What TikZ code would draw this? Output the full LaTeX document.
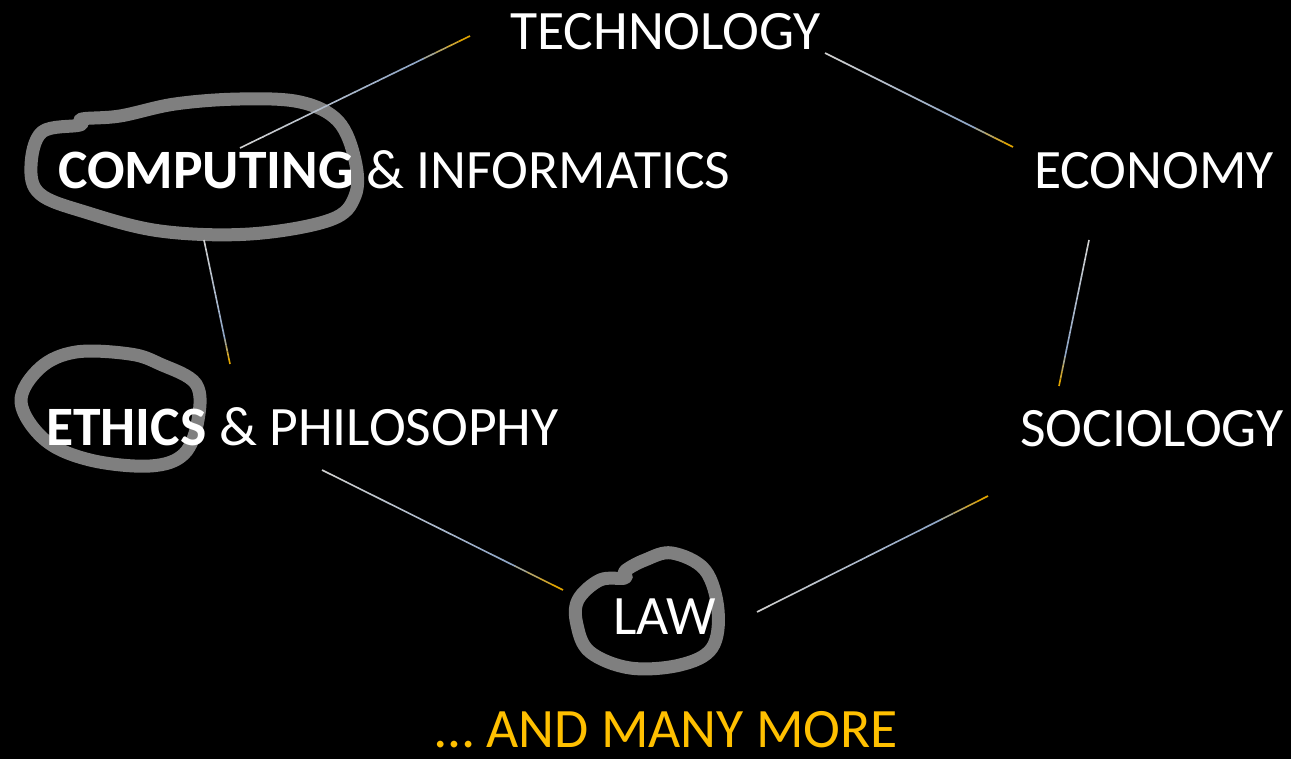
\documentclass[tikz,border=0pt]{standalone}
\usepackage{fontspec}
\setmainfont{Carlito}
\usetikzlibrary{calc}
\definecolor{lnA}{HTML}{D0D0D0}
\definecolor{lnB}{HTML}{8FA6C6}
\definecolor{lnC}{HTML}{E0A400}
\definecolor{moreorange}{HTML}{FFC000}
\definecolor{loopgray}{HTML}{7F7F7F}
\tikzset{
  lbl/.style={inner sep=0pt, anchor=base west, text=white, font=\fontsize{55.6}{62}\selectfont},
  link/.style={line width=1.6pt, line cap=butt},
  loopline/.style={draw=loopgray, line width=13pt, line join=round, line cap=round}
}
\newcommand{\glink}[2]{%
  \foreach \i in {0,...,15}{%
    \pgfmathsetmacro\s{\i/20}\pgfmathsetmacro\e{(\i+1)/20+0.002}%
    \pgfmathtruncatemacro\p{100-\i*100/15}%
    \draw[link, lnA!\p!lnB] ($(#1)!\s!(#2)$) -- ($(#1)!\e!(#2)$);}%
  \foreach \i in {16,...,19}{%
    \pgfmathsetmacro\s{\i/20}\pgfmathsetmacro\e{(\i+1)/20}%
    \pgfmathtruncatemacro\p{100-(\i-15)*25}%
    \draw[link, lnB!\p!lnC] ($(#1)!\s!(#2)$) -- ($(#1)!\e!(#2)$);}%
}
\begin{document}
\begin{tikzpicture}[x=1pt, y=-1pt]
\fill[black] (0,0) rectangle (1291,759);
\useasboundingbox (0,0) rectangle (1291,759);

% loops
\draw[loopline] plot[smooth cycle, tension=0.6] coordinates {(31,166) (42,132) (80,125) (82,119) (120,116) (175,104) (240,99) (300,102) (338,121) (355,160) (355,196) (330,220) (250,234) (160,231) (85,212) (40,194)};
\draw[loopline] plot[smooth cycle, tension=0.6] coordinates {(21,402) (40,368) (76,352) (130,354) (160,364) (196,384) (198,420) (184,454) (150,466) (90,460) (45,440)};
\draw[loopline] plot[smooth cycle, tension=0.6] coordinates {(578,600) (600,580) (625,578) (625,571) (645,560) (672,553) (705,570) (718,610) (712,648) (680,665) (630,668) (590,652) (577,625)};

% labels
\node[lbl] (tech) at (510,50) {TECHNOLOGY};
\node[lbl] (comp) at (58,189) {\textbf{COMPUTING} \& INFORMATICS};
\node[lbl] (econ) at (1034,189) {ECONOMY};
\node[lbl] (ethics) at (46,445) {\textbf{ETHICS} \& PHILOSOPHY};
\node[lbl] (socio) at (1020,446) {SOCIOLOGY};
\node[lbl] (law) at (613,634) {LAW};
\node[lbl, text=moreorange] (more) at (435,747) {\dots\ AND MANY MORE};

% connector end points
\coordinate (tcA) at (240,148); \coordinate (tcB) at (470,36);
\coordinate (teA) at (825,53);  \coordinate (teB) at (1013,147);
\coordinate (esA) at (1089,240); \coordinate (esB) at (1059,386);
\coordinate (slA) at (757,612); \coordinate (slB) at (988,496);
\coordinate (elA) at (322,470); \coordinate (elB) at (563,590);
\coordinate (ceA) at (204,240); \coordinate (ceB) at (230,364);

\glink{tcA}{tcB}
\glink{teA}{teB}
\glink{esA}{esB}
\glink{slA}{slB}
\glink{elA}{elB}
\glink{ceA}{ceB}
\end{tikzpicture}
\end{document}
